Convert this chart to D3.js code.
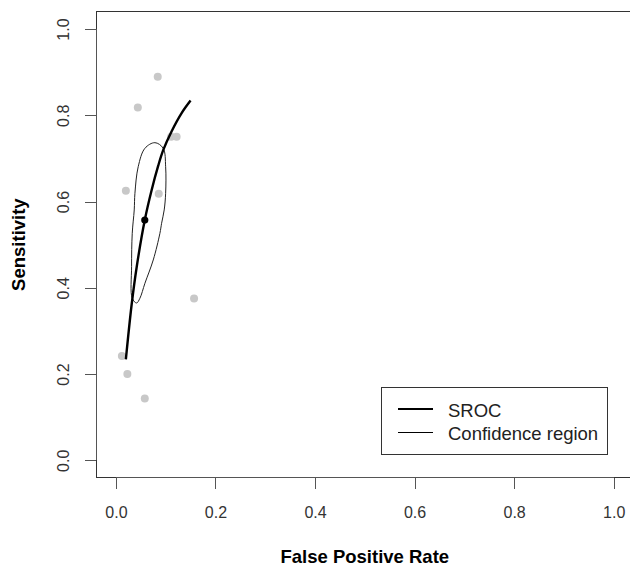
<!DOCTYPE html>
<html>
<head>
<meta charset="utf-8">
<script src="https://cdn.jsdelivr.net/npm/d3@7"></script>
<style>
  html, body { margin: 0; padding: 0; background: #fff; }
  svg { display: block; font-family: 'Liberation Sans', Arial, sans-serif; }
</style>
</head>
<body>
<div id="chart"></div>
<script>
// study estimates (false positive rate, sensitivity)
const studyFpr  = [0.084, 0.044, 0.111, 0.122, 0.020, 0.086, 0.157, 0.012, 0.023, 0.058]
const studySens = [0.889, 0.818, 0.750, 0.750, 0.625, 0.618, 0.375, 0.242, 0.200, 0.143]

// summary point
const summaryFpr = 0.058
const summarySens = 0.557

// SROC curve
const srocFpr  = [0.020, 0.0315, 0.0416, 0.058, 0.0717, 0.085, 0.095, 0.112, 0.132, 0.150]
const srocSens = [0.234, 0.360, 0.447, 0.557, 0.626, 0.683, 0.719, 0.763, 0.805, 0.834]

// confidence region outline
const ciFpr  = [0.0416, 0.0328, 0.0315, 0.0328, 0.0368, 0.0382, 0.0448, 0.0583, 0.0784,
                0.095, 0.0999, 0.0999, 0.097, 0.0918, 0.0884, 0.075, 0.0583, 0.0482]
const ciSens = [0.3647, 0.3756, 0.4489, 0.5263, 0.5804, 0.619, 0.6807, 0.7234, 0.7364,
                0.7234, 0.6807, 0.619, 0.5804, 0.5495, 0.5263, 0.4644, 0.4104, 0.3756]

const ticks = [0, 0.2, 0.4, 0.6, 0.8, 1.0]
const legendLabels = ['SROC', 'Confidence region']

const W = 630, H = 567
const m = { left: 96, right: 633.6, top: 11.75, bottom: 477.5 }

const svg = d3.select('#chart').append('svg')
  .attr('width', W).attr('height', H)

const x = d3.scaleLinear().domain([-0.04, 1.04]).range([m.left, m.right])
const y = d3.scaleLinear().domain([-0.04, 1.04]).range([m.bottom, m.top])

// box
svg.append('rect')
  .attr('x', m.left).attr('y', m.top)
  .attr('width', m.right - m.left).attr('height', m.bottom - m.top)
  .attr('fill', 'none').attr('stroke', '#333').attr('stroke-width', 1)
  .attr('shape-rendering', 'crispEdges')

// x axis
const gx = svg.append('g')
  .attr('transform', `translate(0,${m.bottom})`)
  .attr('shape-rendering', 'crispEdges')
  .call(d3.axisBottom(x).tickValues(ticks).tickFormat(d3.format('.1f')).tickSize(11).tickPadding(18.5).tickSizeOuter(0))
gx.select('.domain').attr('d', `M${x(0)},0H${x(1)}`).attr('stroke', '#555')
gx.selectAll('.tick line').attr('stroke', '#555')
gx.selectAll('.tick text').attr('fill', '#333').style('font-size', '16px').style('font-family', 'Liberation Sans, Arial, sans-serif')

// y axis, labels rotated like R
const gy = svg.append('g')
  .attr('transform', `translate(${m.left},0)`)
  .attr('shape-rendering', 'crispEdges')
  .call(d3.axisLeft(y).tickValues(ticks).tickFormat(d3.format('.1f')).tickSize(11).tickSizeOuter(0))
gy.select('.domain').attr('d', `M0,${y(0)}V${y(1)}`).attr('stroke', '#555')
gy.selectAll('.tick line').attr('stroke', '#555')
gy.selectAll('.tick text')
  .attr('x', null).attr('dy', null)
  .attr('text-anchor', 'middle')
  .attr('transform', 'translate(-27,0) rotate(-90)')
  .attr('fill', '#333').style('font-size', '16px').style('font-family', 'Liberation Sans, Arial, sans-serif')

// axis titles
svg.append('text')
  .attr('x', (m.left + m.right) / 2).attr('y', 563)
  .attr('text-anchor', 'middle')
  .style('font-size', '18.5px').style('font-weight', 'bold')
  .text('False Positive Rate')

svg.append('text')
  .attr('transform', `translate(25,${(m.top + m.bottom) / 2}) rotate(-90)`)
  .attr('text-anchor', 'middle')
  .style('font-size', '18.5px').style('font-weight', 'bold')
  .text('Sensitivity')

// study points
svg.append('g').selectAll('circle')
  .data(d3.zip(studyFpr, studySens))
  .join('circle')
  .attr('cx', d => x(d[0])).attr('cy', d => y(d[1]))
  .attr('r', 4).attr('fill', '#c8c8c8')

// confidence region
const ciLine = d3.line().x(d => x(d[0])).y(d => y(d[1])).curve(d3.curveCatmullRomClosed)
svg.append('path')
  .datum(d3.zip(ciFpr, ciSens))
  .attr('d', ciLine)
  .attr('fill', 'none').attr('stroke', '#222').attr('stroke-width', 1)

// SROC curve
const srocLine = d3.line().x(d => x(d[0])).y(d => y(d[1])).curve(d3.curveCatmullRom)
svg.append('path')
  .datum(d3.zip(srocFpr, srocSens))
  .attr('d', srocLine)
  .attr('fill', 'none').attr('stroke', '#000').attr('stroke-width', 2.4)

// summary point
svg.append('circle')
  .attr('cx', x(summaryFpr)).attr('cy', y(summarySens))
  .attr('r', 3.6).attr('fill', '#000')

// legend
const lg = svg.append('g')
lg.append('rect')
  .attr('x', 381.5).attr('y', 387.5).attr('width', 226).attr('height', 67)
  .attr('fill', '#fff').attr('stroke', '#333').attr('stroke-width', 1)
const widths = [2, 1]
legendLabels.forEach((lab, i) => {
  const yy = 409 + i * 23
  lg.append('line')
    .attr('x1', 398).attr('x2', 433)
    .attr('y1', i ? yy + 0.5 : yy).attr('y2', i ? yy + 0.5 : yy)
    .attr('stroke', '#000').attr('stroke-width', widths[i])
  lg.append('text')
    .attr('x', 448).attr('y', yy + 7.5)
    .attr('fill', '#222')
    .style('font-size', '18.5px')
    .text(lab)
})
</script>
</body>
</html>
